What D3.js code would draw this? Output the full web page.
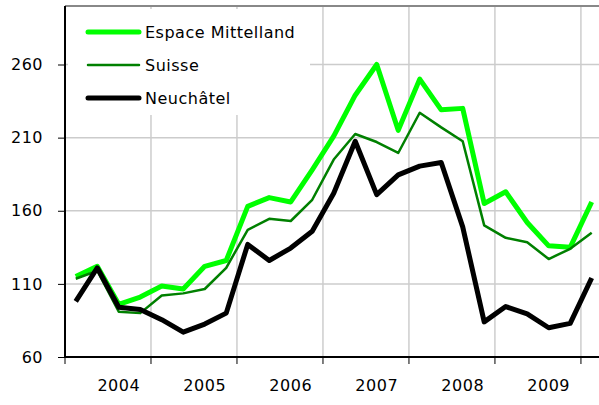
<!DOCTYPE html>
<html>
<head>
<meta charset="utf-8">
<script src="https://cdn.jsdelivr.net/npm/d3@7"></script>
<style>
  body { margin: 0; background: #fff; }
  text { font-family: "DejaVu Sans", Verdana, sans-serif; letter-spacing: 0.5px; }
</style>
</head>
<body>
<div id="chart"></div>
<script>
var periods = ["2004-1","2004-2","2004-3","2004-4",
               "2005-1","2005-2","2005-3","2005-4",
               "2006-1","2006-2","2006-3","2006-4",
               "2007-1","2007-2","2007-3","2007-4",
               "2008-1","2008-2","2008-3","2008-4",
               "2009-1","2009-2","2009-3","2009-4","2010-1"];
var yearLabels = ["2004", "2005", "2006", "2007", "2008", "2009"];
var yTicks = [60, 110, 160, 210, 260];

var espaceMittelland = [115, 122, 96, 101, 108.5, 106.5, 122, 126, 163, 169, 166, 188,
                        211, 239, 260, 215, 250, 229, 230, 165, 173, 152, 136, 135, 166];
var suisse = [113.5, 119, 91, 90, 102, 103.5, 106.5, 121, 147, 154.5, 153, 167.5,
              195, 212.5, 207, 199.5, 227, 217, 207.5, 150, 141.5, 138.5, 127, 134, 145];
var neuchatel = [98, 121, 94, 92.5, 85.5, 77, 82.5, 90, 137, 126, 134.5, 146,
                 172, 207.5, 171, 184.5, 190.5, 193, 149, 84, 94.5, 89.5, 80, 83, 114];

var seriesNames = ["Espace Mittelland", "Suisse", "Neuchâtel"];
var seriesColors = ["#00ff00", "#008000", "#000000"];
var seriesWidths = [5, 2.5, 5];

var W = 599, H = 405;
var margin = {top: 6, right: 0, bottom: 48, left: 65};

var svg = d3.select("#chart").append("svg")
    .attr("width", W)
    .attr("height", H);

var x = d3.scaleLinear()
    .domain([-0.5, 24.34])
    .range([margin.left, W - margin.right]);

var y = d3.scaleLinear()
    .domain([60, 300])
    .range([H - margin.bottom, margin.top]);

// vertical gridlines between years
var yearBounds = d3.range(3.5, 24, 4);
svg.append("g")
    .selectAll("line")
    .data(yearBounds)
    .enter().append("line")
    .attr("x1", d => x(d)).attr("x2", d => x(d))
    .attr("y1", y(60)).attr("y2", y(300))
    .attr("stroke", "#b4b4b4")
    .attr("stroke-width", 1);

// horizontal gridlines
svg.append("g")
    .selectAll("line")
    .data(yTicks.slice(1))
    .enter().append("line")
    .attr("x1", x(-0.5)).attr("x2", W)
    .attr("y1", d => y(d)).attr("y2", d => y(d))
    .attr("stroke", "#cccccc")
    .attr("stroke-width", 1.5);

// top border
svg.append("line")
    .attr("x1", x(-0.5)).attr("x2", W)
    .attr("y1", y(300)).attr("y2", y(300))
    .attr("stroke", "#888888")
    .attr("stroke-width", 2);

// legend box (white background)
var legend = svg.append("g");
legend.append("rect")
    .attr("x", 68).attr("y", 9)
    .attr("width", 242).attr("height", 106)
    .attr("fill", "#fff");

// y axis
var yAxis = d3.axisLeft(y)
    .tickValues(yTicks)
    .tickSize(7)
    .tickPadding(15)
    .tickFormat(d3.format("d"));
var gy = svg.append("g")
    .attr("transform", "translate(" + x(-0.5) + ",0)")
    .call(yAxis);
gy.select(".domain").remove();
gy.append("line")
    .attr("x1", 0).attr("x2", 0)
    .attr("y1", y(60)).attr("y2", y(300))
    .attr("stroke", "#000").attr("stroke-width", 2);
gy.selectAll(".tick line").attr("stroke", "#000");
gy.selectAll(".tick text")
    .attr("fill", "#000")
    .style("font-size", "16px");

// x axis: ticks at year boundaries, labels in the middle
var boundTicks = [-0.5].concat(yearBounds);
var gx = svg.append("g")
    .attr("transform", "translate(0," + y(60) + ")");
gx.append("line")
    .attr("x1", x(-0.5)).attr("x2", W)
    .attr("stroke", "#000").attr("stroke-width", 2);
gx.selectAll(".tk")
    .data(boundTicks)
    .enter().append("line")
    .attr("x1", d => x(d)).attr("x2", d => x(d))
    .attr("y1", 0).attr("y2", 7)
    .attr("stroke", "#000");
gx.selectAll(".lbl")
    .data(yearLabels)
    .enter().append("text")
    .attr("x", (d, i) => x(periods.indexOf(d + "-3")))
    .attr("y", 34)
    .attr("text-anchor", "middle")
    .style("font-size", "16px")
    .text(d => d);

// lines
var allSeries = [espaceMittelland, suisse, neuchatel];
var line = d3.line()
    .x((d, i) => x(i))
    .y(d => y(d));

svg.append("g")
    .selectAll("path")
    .data(allSeries)
    .enter().append("path")
    .attr("fill", "none")
    .attr("stroke", (d, i) => seriesColors[i])
    .attr("stroke-width", (d, i) => seriesWidths[i])
    .attr("stroke-linejoin", "round")
    .attr("d", line);

// legend entries
var items = legend.selectAll(".item")
    .data(seriesNames)
    .enter().append("g")
    .attr("transform", (d, i) => "translate(0," + (32 + i * 33) + ")");
items.append("line")
    .attr("x1", 88).attr("x2", 139)
    .attr("stroke", (d, i) => seriesColors[i])
    .attr("stroke-width", (d, i) => seriesWidths[i])
    .attr("stroke-linecap", "round");
items.append("text")
    .attr("x", 145)
    .attr("dy", "0.35em")
    .style("font-size", "16px")
    .text(d => d);
</script>
</body>
</html>
